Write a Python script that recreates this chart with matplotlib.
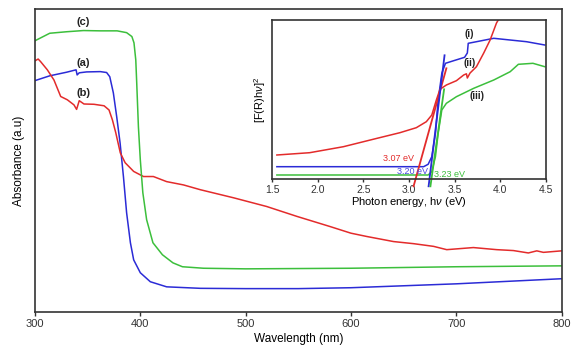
import matplotlib
matplotlib.use('Agg')
import matplotlib.pyplot as plt

plt.rcParams['font.family'] = ['Liberation Sans', 'DejaVu Sans']
plt.rcParams['mathtext.fontset'] = 'custom'
plt.rcParams['mathtext.it'] = 'Liberation Sans:italic'
plt.rcParams['mathtext.rm'] = 'Liberation Sans'

# Main spectra (wavelength in nm, absorbance in arbitrary units)
wl_a = [300, 314, 330, 339, 340, 342, 349, 362, 368, 371, 374.4, 377.6, 380.8, 384, 387, 390.6,
        393.7, 400, 409.5, 425, 457, 500, 550, 600, 700, 800]
abs_a = [77.1, 78.7, 79.9, 80.7, 79.0, 79.7, 80.0, 80.1, 79.8, 78.4, 73.0, 65.0, 56.3, 45.0, 33.0, 23.0,
         17.3, 13.0, 10.0, 8.3, 7.8, 7.7, 7.7, 8.0, 9.3, 11.0]

wl_b = [300, 303, 305.4, 311.7, 318, 324.4, 330.7, 337, 339.5, 342, 346.5, 356, 365.6, 370.3, 373.5,
        376.7, 381, 385.6, 393.7, 403, 412.4, 425, 441, 457, 488.6, 520, 548.7, 564.5, 580.3, 600,
        615, 640.5, 659.5, 678.5, 691, 716.3, 738.5, 754.3, 768.5, 776.5, 782.8, 800]
abs_b = [83.7, 84.3, 83.4, 80.7, 77.3, 71.8, 70.7, 69.0, 67.5, 70.4, 69.3, 69.2, 68.7, 67.3, 64.0,
         59.7, 53.0, 49.7, 46.8, 45.1, 45.1, 43.4, 42.3, 40.7, 38.0, 35.1, 31.8, 30.1, 28.4, 26.2,
         25.1, 23.4, 22.7, 21.8, 20.7, 21.4, 20.7, 20.4, 19.6, 20.3, 19.8, 20.3]

wl_c = [300, 314, 330, 346, 362, 378, 387, 392, 394, 395.7, 396.6, 398.2, 400, 402.4, 406, 412,
        421, 431, 440, 460, 500, 600, 700, 800]
abs_c = [90.4, 92.9, 93.4, 93.8, 93.7, 93.7, 93.1, 91.8, 89.7, 84.0, 76.3, 61.7, 50.7, 39.7, 30.7, 23.0,
         19.0, 16.3, 15.0, 14.5, 14.3, 14.5, 15.0, 15.3]

# Tauc plot (photon energy in eV)
e_i = [1.55, 3.16, 3.21, 3.25, 3.29, 3.32, 3.36, 3.40, 3.49, 3.61, 3.64, 3.65, 3.74, 3.93, 4.11, 4.29, 4.49]
f_i = [12.6, 12.6, 15.0, 22.6, 46.0, 79.3, 106.0, 116.0, 118.6, 122.0, 126.3, 136.0, 137.6, 141.0,
       139.3, 137.6, 134.3]

e_ii = [1.55, 1.91, 2.28, 2.65, 2.90, 3.08, 3.19, 3.25, 3.30, 3.34, 3.41, 3.52, 3.60, 3.63, 3.64,
        3.67, 3.74, 3.82, 3.89, 3.96, 4.01]
f_ii = [24.3, 26.6, 32.6, 41.0, 46.6, 51.6, 57.6, 64.3, 79.3, 90.0, 94.3, 98.6, 104.3, 105.5, 101.3,
        106.3, 112.6, 126.3, 139.3, 156.3, 164.0]

e_iii = [1.55, 3.21, 3.25, 3.29, 3.32, 3.36, 3.41, 3.52, 3.71, 3.93, 4.11, 4.20, 4.36, 4.49]
f_iii = [4.3, 4.3, 7.6, 22.6, 46.0, 69.3, 76.0, 82.6, 91.0, 99.3, 107.6, 115.0, 116.0, 112.6]

# Linear fits used for the band gap
fit_ii = ([3.05, 3.41], [-7, 111])
fit_i = ([3.215, 3.39], [-7, 124])
fit_iii = ([3.235, 3.385], [-7, 90])

red = '#e32b2b'
blue = '#2b2bd6'
green = '#3cbf3c'
frame = '#333333'

fig = plt.figure(figsize=(5.71, 3.45), dpi=100)
ax = fig.add_axes([0.0613, 0.0965, 0.9221, 0.8775])
ax.plot(wl_a, abs_a, color=blue, lw=1.1)
ax.plot(wl_b, abs_b, color=red, lw=1.1)
ax.plot(wl_c, abs_c, color=green, lw=1.1)
ax.set_xlim(300, 800)
ax.set_ylim(0, 101)
ax.set_xticks([300, 400, 500, 600, 700, 800])
ax.set_yticks([])
ax.tick_params(axis='x', direction='out', length=3, width=1, colors=frame, labelsize=8, pad=2)
for s in ax.spines.values():
    s.set_color(frame)
    s.set_linewidth(1.2)
ax.set_xlabel('Wavelength (nm)', fontsize=8.5, labelpad=3)
ax.set_ylabel('Absorbance (a.u)', fontsize=8.5, labelpad=7)
ax.text(346, 83, '(a)', fontsize=8, fontweight='bold', color='#222222', ha='center', va='center')
ax.text(346, 73, '(b)', fontsize=8, fontweight='bold', color='#222222', ha='center', va='center')
ax.text(346, 96.8, '(c)', fontsize=8, fontweight='bold', color='#222222', ha='center', va='center')

ins = fig.add_axes([0.4769, 0.4803, 0.4788, 0.4617])
ins.plot(e_i, f_i, color=blue, lw=1.1)
ins.plot(e_ii, f_ii, color=red, lw=1.1)
ins.plot(e_iii, f_iii, color=green, lw=1.1)
ins.plot(*fit_ii, color=red, lw=1.3, clip_on=False)
ins.plot(*fit_i, color=blue, lw=1.3, clip_on=False)
ins.plot(*fit_iii, color=green, lw=1.3, clip_on=False)
ins.set_xlim(1.5, 4.5)
ins.set_ylim(0, 159.3)
ins.set_xticks([1.5, 2.0, 2.5, 3.0, 3.5, 4.0, 4.5])
ins.set_yticks([])
ins.tick_params(axis='x', direction='out', length=2.5, width=1, colors=frame, labelsize=7.5, pad=1.5)
for s in ins.spines.values():
    s.set_color(frame)
    s.set_linewidth(1.2)
ins.set_xlabel(r'Photon energy, h$\nu$ (eV)', fontsize=8, labelpad=0)
ins.set_ylabel(r'[F(R)h$\nu$]$^2$', fontsize=8, labelpad=3)
ins.text(3.055, 21, '3.07 eV', color=red, fontsize=6.5, ha='right', va='center')
ins.text(3.21, 7.6, '3.20 eV', color='#4a4ae0', fontsize=6.5, ha='right', va='center')
ins.text(3.27, 4.3, '3.23 eV', color=green, fontsize=6.5, ha='left', va='center')
ins.text(3.66, 145, '(i)', fontsize=7, fontweight='bold', color='#222222', ha='center', va='center')
ins.text(3.66, 116, '(ii)', fontsize=7, fontweight='bold', color='#222222', ha='center', va='center')
ins.text(3.75, 83, '(iii)', fontsize=7, fontweight='bold', color='#222222', ha='center', va='center')

fig.savefig('out.png', dpi=100)
